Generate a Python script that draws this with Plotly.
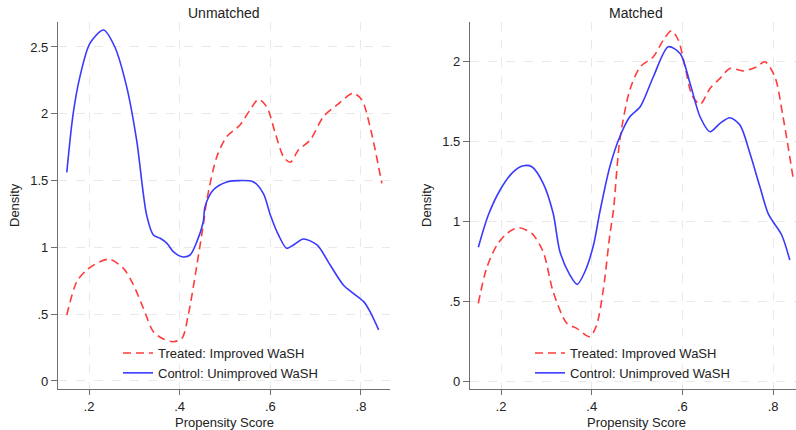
import plotly.graph_objects as go

# ---------------- data ----------------
um_ctrl_x = [0.151, 0.165, 0.180, 0.202, 0.232, 0.257, 0.283, 0.305, 0.327, 0.342, 0.357, 0.372, 0.386,
             0.405, 0.423, 0.438, 0.452, 0.456, 0.474, 0.504, 0.533, 0.563, 0.585, 0.600, 0.618, 0.636,
             0.651, 0.673, 0.703, 0.732, 0.761, 0.783, 0.806, 0.820, 0.839]
um_ctrl_y = [1.562, 2.000, 2.278, 2.527, 2.627, 2.500, 2.203, 1.804, 1.243, 1.093, 1.068, 1.030, 0.968,
             0.930, 0.943, 1.043, 1.190, 1.305, 1.430, 1.490, 1.500, 1.490, 1.400, 1.243, 1.093, 0.993,
             1.018, 1.063, 1.018, 0.868, 0.719, 0.656, 0.594, 0.519, 0.382]

um_trt_x = [0.151, 0.173, 0.195, 0.224, 0.246, 0.276, 0.298, 0.320, 0.342, 0.364, 0.386, 0.405, 0.419,
            0.438, 0.452, 0.460, 0.482, 0.504, 0.533, 0.555, 0.574, 0.592, 0.611, 0.629, 0.644, 0.662,
            0.688, 0.717, 0.747, 0.783, 0.802, 0.820, 0.846]
um_trt_y = [0.494, 0.743, 0.831, 0.893, 0.911, 0.843, 0.719, 0.544, 0.369, 0.314, 0.294, 0.319, 0.494,
            0.868, 1.168, 1.355, 1.679, 1.829, 1.916, 2.028, 2.108, 2.053, 1.854, 1.679, 1.637, 1.729,
            1.804, 1.978, 2.066, 2.153, 2.103, 1.904, 1.479]

m_ctrl_x = [0.150, 0.172, 0.198, 0.227, 0.249, 0.268, 0.293, 0.315, 0.330, 0.352, 0.368, 0.385, 0.404,
            0.418, 0.440, 0.462, 0.484, 0.507, 0.536, 0.569, 0.595, 0.617, 0.639, 0.661, 0.683, 0.705,
            0.727, 0.749, 0.771, 0.789, 0.800, 0.819, 0.837]
m_ctrl_y = [0.838, 1.040, 1.197, 1.311, 1.349, 1.343, 1.239, 1.051, 0.810, 0.664, 0.606, 0.685, 0.852,
            1.060, 1.343, 1.531, 1.656, 1.719, 1.907, 2.095, 2.053, 1.865, 1.656, 1.562, 1.615, 1.650,
            1.604, 1.427, 1.217, 1.051, 0.998, 0.915, 0.758]

m_trt_x = [0.150, 0.168, 0.191, 0.213, 0.238, 0.268, 0.293, 0.315, 0.345, 0.367, 0.396, 0.411, 0.426,
           0.440, 0.448, 0.462, 0.484, 0.507, 0.536, 0.558, 0.576, 0.591, 0.606, 0.621, 0.639, 0.661,
           0.683, 0.705, 0.734, 0.764, 0.782, 0.804, 0.822, 0.845]
m_trt_y = [0.487, 0.706, 0.852, 0.925, 0.961, 0.925, 0.810, 0.560, 0.362, 0.330, 0.278, 0.351, 0.581,
           0.915, 1.071, 1.510, 1.823, 1.969, 2.032, 2.137, 2.195, 2.137, 1.969, 1.792, 1.734, 1.834,
           1.897, 1.959, 1.944, 1.969, 2.001, 1.907, 1.656, 1.259]

x_tickvals = [0.2, 0.4, 0.6, 0.8]
x_ticktext = [".2", ".4", ".6", ".8"]
um_y_tickvals = [0, 0.5, 1, 1.5, 2, 2.5]
um_y_ticktext = ["0", ".5", "1", "1.5", "2", "2.5"]
m_y_tickvals = [0, 0.5, 1, 1.5, 2]
m_y_ticktext = ["0", ".5", "1", "1.5", "2"]

trt_name = "Treated: Improved WaSH"
ctrl_name = "Control: Unimproved WaSH"

# ---------------- figure ----------------
RED = "#ff3b3b"
BLUE = "#3a3aff"
FONT = "Liberation Sans, Arial, sans-serif"
W, H = 796, 430

fig = go.Figure()
line_common = dict(shape="spline", smoothing=0.8, width=1.6)

fig.add_trace(go.Scatter(x=um_trt_x, y=um_trt_y, mode="lines", name=trt_name,
                         line=dict(color=RED, dash="8px,5px", **line_common),
                         xaxis="x", yaxis="y", legend="legend"))
fig.add_trace(go.Scatter(x=um_ctrl_x, y=um_ctrl_y, mode="lines", name=ctrl_name,
                         line=dict(color=BLUE, **line_common),
                         xaxis="x", yaxis="y", legend="legend"))
fig.add_trace(go.Scatter(x=m_trt_x, y=m_trt_y, mode="lines", name=trt_name,
                         line=dict(color=RED, dash="8px,5px", **line_common),
                         xaxis="x2", yaxis="y2", legend="legend2"))
fig.add_trace(go.Scatter(x=m_ctrl_x, y=m_ctrl_y, mode="lines", name=ctrl_name,
                         line=dict(color=BLUE, **line_common),
                         xaxis="x2", yaxis="y2", legend="legend2"))

ax_common = dict(showline=True, linecolor="#6e6e6e", linewidth=1.3, ticks="outside",
                 tickcolor="#6e6e6e", tickwidth=1.2, showgrid=True, gridcolor="#e9e9e9",
                 griddash="dash", gridwidth=1, zeroline=False,
                 tickfont=dict(size=13, color="#222"), mirror=False)

ydom = [(H - 389) / H, (H - 22) / H]
fig.update_layout(
    width=W, height=H,
    margin=dict(l=0, r=0, t=0, b=0),
    paper_bgcolor="white", plot_bgcolor="white",
    font=dict(family=FONT, size=13, color="#222"),
    xaxis=dict(domain=[58 / W, 390 / W], range=[0.1316, 0.864], tickvals=x_tickvals,
               ticktext=x_ticktext, anchor="y", ticklen=5, **ax_common),
    yaxis=dict(domain=ydom, range=[-0.06, 2.687], tickvals=um_y_tickvals,
               ticktext=um_y_ticktext, anchor="x", ticklen=6, **ax_common),
    xaxis2=dict(domain=[470 / W, 1.0], range=[0.1316, 0.8506], tickvals=x_tickvals,
                ticktext=x_ticktext, anchor="y2", ticklen=5, **ax_common),
    yaxis2=dict(domain=ydom, range=[-0.05, 2.25], tickvals=m_y_tickvals,
                ticktext=m_y_ticktext, anchor="x2", ticklen=6, **ax_common),
    legend=dict(x=118 / W, y=(H - 338) / H, xanchor="left", yanchor="top",
                bgcolor="rgba(0,0,0,0)", font=dict(size=13, color="#222"),
                tracegroupgap=0),
    legend2=dict(x=530 / W, y=(H - 338) / H, xanchor="left", yanchor="top",
                 bgcolor="rgba(0,0,0,0)", font=dict(size=13, color="#222"),
                 tracegroupgap=0),
    showlegend=True,
)

annots = [
    dict(text="Unmatched", x=224 / W, y=(H - 13) / H, size=14),
    dict(text="Matched", x=636 / W, y=(H - 13) / H, size=14),
    dict(text="Propensity Score", x=224 / W, y=(H - 422) / H, size=13),
    dict(text="Propensity Score", x=636 / W, y=(H - 422) / H, size=13),
]
for a in annots:
    fig.add_annotation(text=a["text"], x=a["x"], y=a["y"], xref="paper", yref="paper",
                       xanchor="center", yanchor="middle", showarrow=False,
                       font=dict(size=a["size"], color="#222", family=FONT))
for xc in (15, 427):
    fig.add_annotation(text="Density", x=xc / W, y=(H - 205) / H, xref="paper", yref="paper",
                       xanchor="center", yanchor="middle", showarrow=False, textangle=-90,
                       font=dict(size=13, color="#222", family=FONT))

fig.write_html("out.html")
